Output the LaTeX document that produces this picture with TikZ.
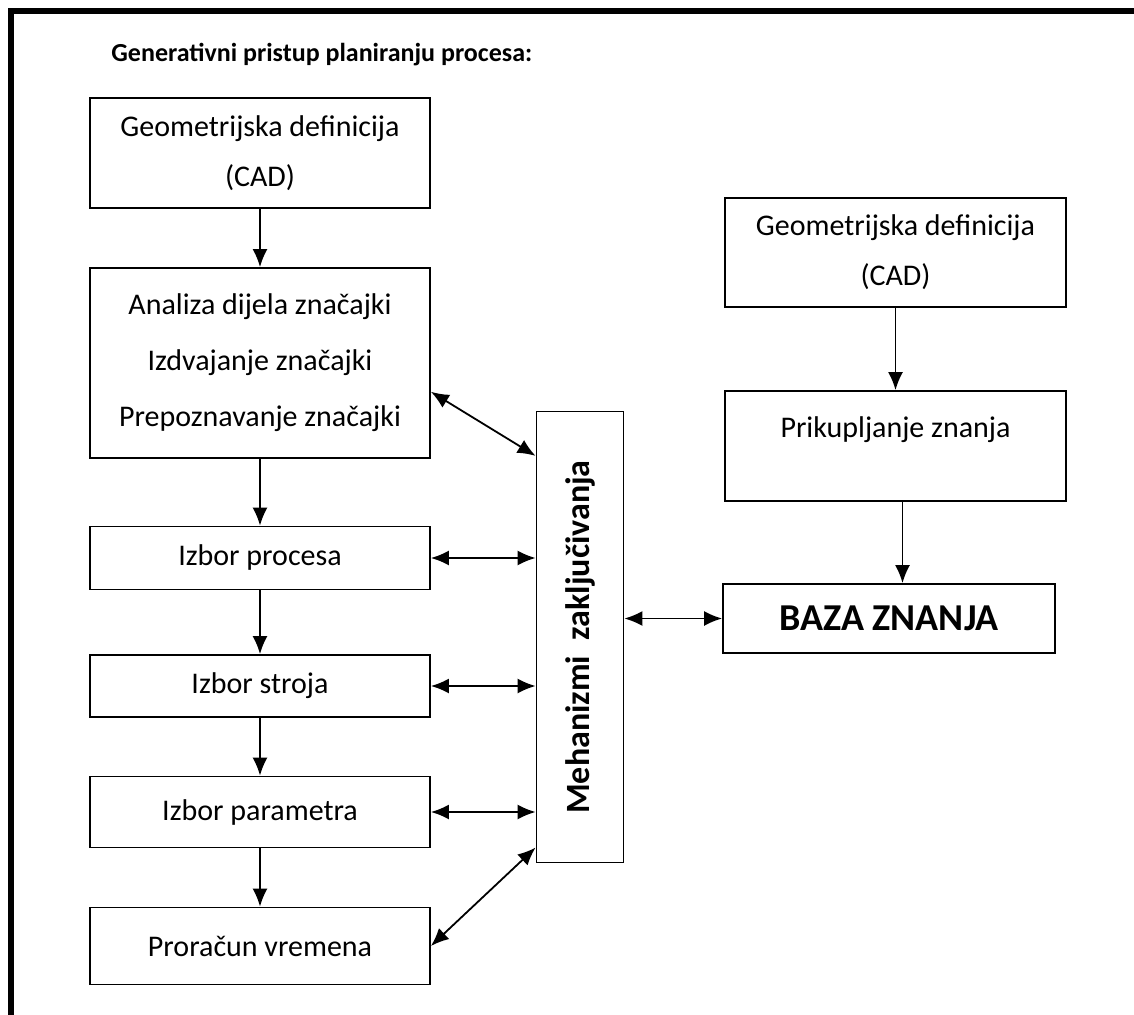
\documentclass[tikz,border=0pt]{standalone}
\usepackage{fontspec}
\setmainfont{Carlito}
\usetikzlibrary{arrows.meta,calc}

\begin{document}
\begin{tikzpicture}[x=0.5pt,y=-0.5pt,
    blok/.style={draw,line width=0.9pt,inner sep=0pt,align=center,
      minimum width=170pt,font=\fontsize{15}{25}\selectfont},
    strelica/.style={line width=0.9pt,-{Latex[length=9pt,width=7.5pt]}},
    dvostruka/.style={line width=0.9pt,
      {Latex[length=9pt,width=7.5pt]}-{Latex[length=9pt,width=7.5pt]}}]
  \useasboundingbox (0,0) rectangle (1134,1015);
  \draw[line width=3pt] (10.5,1015) -- (10.5,11.5) -- (1134,11.5);
  \node[anchor=west,inner sep=0pt,font=\fontsize{13}{15}\selectfont\bfseries] (naslov) at (111,55)
    {Generativni pristup planiranju procesa:};
  % lijevi stupac
  \node[blok,minimum height=55pt] (geoL) at (260,153) {Geometrijska definicija\\(CAD)};
  \node[blok,minimum height=95pt] (analiza) at (260,363)
    {Analiza dijela značajki\\[3pt]Izdvajanje značajki\\[3pt]Prepoznavanje značajki};
  \node[blok,minimum height=31.5pt] (proces) at (260,558) {Izbor procesa};
  \node[blok,minimum height=31pt] (stroj) at (260,686) {Izbor stroja};
  \node[blok,minimum height=35.5pt] (param) at (260,812) {Izbor parametra};
  \node[blok,minimum height=38.5pt] (vrijeme) at (260,946) {Proračun vremena};
  % sredina
  \node[blok,minimum width=43.5pt,minimum height=225.5pt,
    font=\fontsize{17}{20}\selectfont\bfseries] (meh) at (580,637)
    {\rotatebox{90}{Mehanizmi\ \ zaključivanja}};
  % desni stupac
  \node[blok,minimum width=170.5pt,minimum height=54.5pt] (geoR) at (895.5,252.5)
    {Geometrijska definicija\\(CAD)};
  \node[blok,minimum width=170.5pt,minimum height=55pt] (prikup) at (895.5,446)
    {Prikupljanje znanja\\[-6pt]\mbox{}};
  \node[blok,minimum width=166pt,minimum height=34.5pt,
    font=\fontsize{19}{22}\selectfont\bfseries] (baza) at (889,618.5) {BAZA ZNANJA};

  \coordinate (pb) at ($(prikup.south)+(7,0)$);
  \coordinate (mehA) at ($(meh.north west)!0.1!(meh.south west)$);
  \coordinate (mehB) at ($(meh.north west)!0.965!(meh.south west)$);
  \coordinate (anA) at ($(analiza.north east)!0.65!(analiza.south east)$);

  \draw[strelica] (geoL) -- (analiza);
  \draw[strelica] (analiza) -- (proces);
  \draw[strelica] (proces) -- (stroj);
  \draw[strelica] (stroj) -- (param);
  \draw[strelica] (param) -- (vrijeme);
  \draw[strelica] (geoR) -- (prikup);
  \draw[strelica] (pb) -- (pb |- baza.north);

  \draw[dvostruka] (anA) -- (mehA);
  \draw[dvostruka] (proces.east) -- (proces.east -| meh.west);
  \draw[dvostruka] (stroj.east) -- (stroj.east -| meh.west);
  \draw[dvostruka] (param.east) -- (param.east -| meh.west);
  \draw[dvostruka] (vrijeme.east) -- (mehB);
  \draw[dvostruka] (meh.east |- baza.west) -- (baza.west);
\end{tikzpicture}
\end{document}
